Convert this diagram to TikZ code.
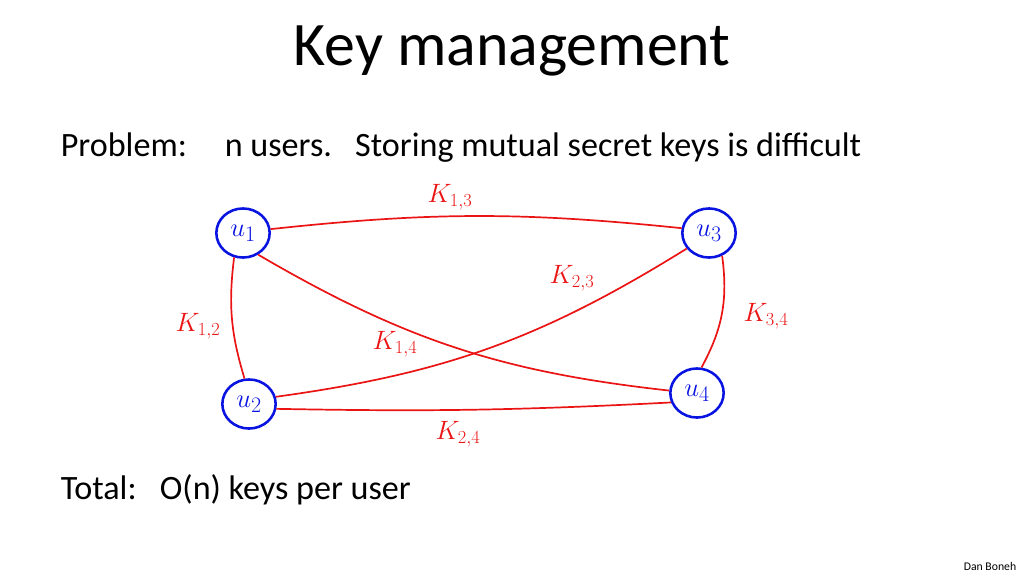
\documentclass[tikz,border=0pt]{standalone}
\usepackage{fontspec}
\setmainfont{Carlito}
\usepackage{tikz}
\usetikzlibrary{calc, positioning, shapes.geometric}
\definecolor{penblue}{RGB}{10,20,225}
\definecolor{penred}{RGB}{235,20,20}

\begin{document}
\begin{tikzpicture}[
  x=0.9375pt, y=-0.9375pt,
  user/.style={draw=penblue, text=penblue, ellipse, line width=2.4pt, minimum width=50pt, minimum height=46pt, inner sep=0pt, font=\fontsize{28}{30}\selectfont},
  key/.style={draw=penred, line width=1.6pt},
  klab/.style={text=penred, font=\fontsize{23}{25}\selectfont},
  txt/.style={anchor=base west, font=\fontsize{32}{38}\selectfont}
]
\useasboundingbox (0,0) rectangle (1024,576);
\node[anchor=base, font=\fontsize{58}{66}\selectfont] (title) at (512,66) {Key management};
\node[txt] (prob) at (57,157) {Problem:};
\node[txt] (users) at (221,157) {n users.\ \ \ Storing mutual secret keys is difficult};
\node[txt] (total) at (57,499) {Total:\ \ \ O(n) keys per user};
\node[anchor=base, font=\fontsize{11}{13}\selectfont] (boneh) at (990,570) {Dan Boneh};

\node[user] (u1) at (243,233) {$u_1$};
\node[user] (u3) at (709,233) {$u_3$};
\node[user] (u2) at (249,404) {$u_2$};
\node[user] (u4) at (697,393) {$u_4$};

\draw[key] (u1.8) to[bend left=6] (u3.170);
\draw[key] (u1.250) to[bend right=12] (u2.100);
\draw[key] (u1.305) to[bend right=12] (u4.175);
\draw[key] (u2.15) to[bend right=12] (u3.215);
\draw[key] (u2.350) to[bend right=2] (u4.200);
\draw[key] (u3.300) to[bend left=18] (u4.80);

\node[klab] (k13) at (450,197) {$K_{1,3}$};
\node[klab] (k12) at (198,326) {$K_{1,2}$};
\node[klab] (k14) at (395,344) {$K_{1,4}$};
\node[klab] (k23) at (572,278) {$K_{2,3}$};
\node[klab] (k34) at (766,316) {$K_{3,4}$};
\node[klab] (k24) at (458,434) {$K_{2,4}$};
\end{tikzpicture}
\end{document}
